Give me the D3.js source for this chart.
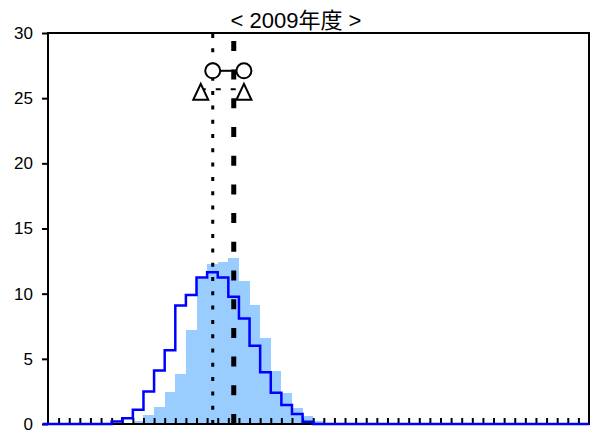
<!DOCTYPE html>
<html>
<head>
<meta charset="utf-8">
<script src="https://cdn.jsdelivr.net/npm/d3@7"></script>
<style>
  html, body { margin: 0; padding: 0; background: #fff; }
  svg { display: block; }
</style>
</head>
<body>
<svg id="chart" width="592" height="434"></svg>
<script>
// ---- data ----
const titleText = "< 2009年度 >";
const binCount = 51;
// shaded histogram (% per bin), bins 0..50
const barValues = [
  0, 0, 0, 0, 0, 0, 0, 0, 0.2, 0.7,
  1.33, 2.48, 3.85, 7.2, 11.1, 12.3, 12.45, 12.75, 11.0, 9.15,
  6.6, 4.07, 2.4, 1.25, 0.65, 0.25, 0, 0, 0, 0,
  0, 0, 0, 0, 0, 0, 0, 0, 0, 0,
  0, 0, 0, 0, 0, 0, 0, 0, 0, 0,
  0
];
// outlined histogram (% per bin), bins 0..50
const lineValues = [
  0, 0, 0, 0, 0, 0, 0.2, 0.45, 1.1, 2.5,
  4.1, 5.65, 9.1, 9.9, 11.25, 11.65, 11.25, 9.77, 8.1, 6.0,
  3.97, 2.4, 1.46, 0.77, 0.18, 0, 0, 0, 0, 0,
  0, 0, 0, 0, 0, 0, 0, 0, 0, 0,
  0, 0, 0, 0, 0, 0, 0, 0, 0, 0,
  0
];
const yTickValues = [0, 5, 10, 15, 20, 25, 30];
const dottedLineAt = 15.53;   // vertical dotted reference
const dashedLineAt = 17.51;   // vertical dashed reference
const circleXs = [15.53, 18.47];
const circleY = 27.1;
const triangleXs = [14.4, 18.47];
const triangleY = 25.68;

// ---- layout ----
const W = 592, H = 434;
const margin = { left: 48, right: 3, top: 33, bottom: 10 };
const svg = d3.select("#chart");

const x = d3.scaleLinear().domain([0, binCount]).range([margin.left, W - margin.right]);
const y = d3.scaleLinear().domain([0, 30]).range([H - margin.bottom, margin.top]);

const font = "'Liberation Sans', Arial, 'Noto Sans CJK JP', sans-serif";

// title
svg.append("text")
  .attr("x", W / 2).attr("y", 28)
  .attr("text-anchor", "middle")
  .attr("font-family", font)
  .attr("font-size", 22)
  .attr("fill", "#000")
  .text(titleText);

// shaded bars
svg.append("g").selectAll("rect")
  .data(barValues.map((v, i) => ({ i, v })).filter(d => d.v > 0))
  .join("rect")
  .attr("x", d => x(d.i))
  .attr("width", d => x(d.i + 1) - x(d.i))
  .attr("y", d => y(d.v))
  .attr("height", d => y(0) - y(d.v))
  .attr("fill", "#99ccff")
  .attr("shape-rendering", "crispEdges");

// plot frame
svg.append("rect")
  .attr("x", x(0)).attr("y", y(30))
  .attr("width", x(binCount) - x(0))
  .attr("height", y(0) - y(30))
  .attr("fill", "none")
  .attr("stroke", "#000")
  .attr("stroke-width", 2);

// y axis: outward ticks and labels
const yAxis = d3.axisLeft(y).tickValues(yTickValues).tickSize(6).tickPadding(9);
const yg = svg.append("g").attr("transform", `translate(${x(0)},0)`).call(yAxis);
yg.select(".domain").remove();
yg.selectAll(".tick line").attr("stroke", "#000").attr("stroke-width", 2);
yg.selectAll(".tick text")
  .attr("font-family", font)
  .attr("font-size", 17)
  .attr("fill", "#000");

// x axis: inward ticks at every inner bin edge
const xAxis = d3.axisBottom(x).tickValues(d3.range(1, binCount)).tickSize(-6).tickFormat("");
const xg = svg.append("g").attr("transform", `translate(0,${y(0)})`).call(xAxis);
xg.select(".domain").remove();
xg.selectAll(".tick line").attr("stroke", "#000").attr("stroke-width", 2);

// outlined histogram as a step line
const stepPts = [{ b: -0.5, v: lineValues[0] }]
  .concat(lineValues.map((v, i) => ({ b: i, v })))
  .concat([{ b: binCount, v: lineValues[binCount - 1] }]);
svg.append("path")
  .datum(stepPts)
  .attr("d", d3.line().x(d => x(d.b)).y(d => y(d.v)).curve(d3.curveStepAfter))
  .attr("fill", "none")
  .attr("stroke", "#0000ff")
  .attr("stroke-width", 2.5)
  .attr("stroke-linejoin", "miter");

// vertical reference lines (drawn from the baseline upward)
svg.append("line")
  .attr("x1", x(dottedLineAt)).attr("x2", x(dottedLineAt))
  .attr("y1", y(0)).attr("y2", y(30))
  .attr("stroke", "#000").attr("stroke-width", 3)
  .attr("stroke-dasharray", "4 10.3");
svg.append("line")
  .attr("x1", x(dashedLineAt)).attr("x2", x(dashedLineAt))
  .attr("y1", y(0)).attr("y2", y(30))
  .attr("stroke", "#000").attr("stroke-width", 5)
  .attr("stroke-dasharray", "10 18.7");

// connectors between the markers
svg.append("line")
  .attr("x1", x(circleXs[0])).attr("x2", x(circleXs[1]))
  .attr("y1", y(circleY)).attr("y2", y(circleY))
  .attr("stroke", "#000").attr("stroke-width", 2);
svg.append("line")
  .attr("x1", x(triangleXs[0])).attr("x2", x(triangleXs[1]))
  .attr("y1", y(triangleY)).attr("y2", y(triangleY))
  .attr("stroke", "#000").attr("stroke-width", 2)
  .attr("stroke-dasharray", "5 10");

// circle markers
svg.append("g").selectAll("circle")
  .data(circleXs)
  .join("circle")
  .attr("cx", d => x(d))
  .attr("cy", y(circleY))
  .attr("r", 7.5)
  .attr("fill", "#fff")
  .attr("stroke", "#000")
  .attr("stroke-width", 2);

// triangle markers
svg.append("g").selectAll("path")
  .data(triangleXs)
  .join("path")
  .attr("transform", d => `translate(${x(d)},${y(triangleY)})`)
  .attr("d", "M0,-5.5 L-7.5,10.5 L7.5,10.5 Z")
  .attr("fill", "#fff")
  .attr("stroke", "#000")
  .attr("stroke-width", 2)
  .attr("stroke-linejoin", "miter");
</script>
</body>
</html>
